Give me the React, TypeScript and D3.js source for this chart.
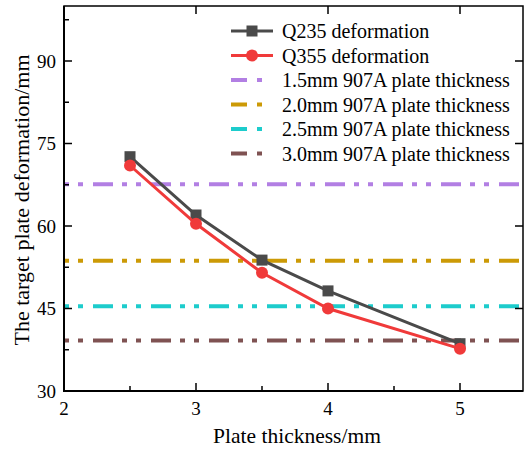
import React from "react";
import * as d3 from "d3";

const thickness = [2.5, 3, 3.5, 4, 5];
const q235 = [72.6, 62.0, 53.8, 48.2, 38.6];
const q355 = [71.0, 60.4, 51.5, 45.0, 37.7];
const refLabels = [
  "1.5mm 907A plate thickness",
  "2.0mm 907A plate thickness",
  "2.5mm 907A plate thickness",
  "3.0mm 907A plate thickness",
];
const refValues = [67.6, 53.7, 45.4, 39.2];
const refColors = ["#b27fe3", "#cc9a06", "#1dcccc", "#7f5252"];
const xTicks = [2, 3, 4, 5];
const xMinor = [2.5, 3.5, 4.5];
const yTicks = [30, 45, 60, 75, 90];
const yMinor = [37.5, 52.5, 67.5, 82.5, 97.5];

const W = 526;
const H = 452;
const L = 64, R = 523, T = 6, B = 391;
const FONT = "'Liberation Serif', 'Times New Roman', serif";

export default function App() {
  const x = d3.scaleLinear().domain([2, 5]).range([L, 460]);
  const y = d3.scaleLinear().domain([30, 90]).range([B, 61]);
  const line = d3
    .line<number>()
    .x((_, i) => x(thickness[i]))
    .y((d) => y(d));
  const grey = "#4a4a4a";
  const red = "#f03a3a";
  const legendRows = [
    { label: "Q235 deformation", color: grey, kind: "sq" },
    { label: "Q355 deformation", color: red, kind: "ci" },
    ...refLabels.map((l, i) => ({ label: l, color: refColors[i], kind: "dash" })),
  ];
  return (
    <svg
      width={W}
      height={H}
      style={{ position: "absolute", left: 0, top: 0, background: "#fff" }}
      fontFamily={FONT}
    >
      {refValues.map((v, i) => (
        <line
          key={"r" + i}
          x1={L}
          x2={R}
          y1={y(v)}
          y2={y(v)}
          stroke={refColors[i]}
          strokeWidth={4}
          strokeDasharray="5 9 5 10 20 9"
        />
      ))}
      <path d={line(q235) || ""} fill="none" stroke={grey} strokeWidth={3} />
      {q235.map((v, i) => (
        <rect
          key={"s" + i}
          x={x(thickness[i]) - 5.5}
          y={y(v) - 5.5}
          width={11}
          height={11}
          fill={grey}
        />
      ))}
      <path d={line(q355) || ""} fill="none" stroke={red} strokeWidth={3} />
      {q355.map((v, i) => (
        <circle key={"c" + i} cx={x(thickness[i])} cy={y(v)} r={6} fill={red} />
      ))}
      <rect x={L} y={T} width={R - L} height={B - T} fill="none" stroke="#000" strokeWidth={1.5} />
      <line x1={L} x2={L} y1={T} y2={B + 1} stroke="#000" strokeWidth={2} />
      <line x1={L - 1} x2={R} y1={B} y2={B} stroke="#000" strokeWidth={2} />
      {xTicks.map((t) => (
        <g key={"xt" + t}>
          <line x1={x(t)} x2={x(t)} y1={B} y2={B - 8} stroke="#000" strokeWidth={1.5} />
          <line x1={x(t)} x2={x(t)} y1={T} y2={T + 8} stroke="#000" strokeWidth={1.5} />
          <text x={x(t)} y={415} textAnchor="middle" fontSize={19}>
            {t}
          </text>
        </g>
      ))}
      {xMinor.map((t) => (
        <line key={"xm" + t} x1={x(t)} x2={x(t)} y1={B} y2={B - 5} stroke="#000" strokeWidth={1.5} />
      ))}
      {yTicks.map((t) => (
        <g key={"yt" + t}>
          <line x1={L} x2={L + 8} y1={y(t)} y2={y(t)} stroke="#000" strokeWidth={1.5} />
          <line x1={R} x2={R - 8} y1={y(t)} y2={y(t)} stroke="#000" strokeWidth={1.5} />
          <text x={L - 8} y={y(t) + 6.5} textAnchor="end" fontSize={19}>
            {t}
          </text>
        </g>
      ))}
      {yMinor.map((t) => (
        <line key={"ym" + t} x1={L} x2={L + 5} y1={y(t)} y2={y(t)} stroke="#000" strokeWidth={1.5} />
      ))}
      <text x={297} y={443} textAnchor="middle" fontSize={21.5}>
        Plate thickness/mm
      </text>
      <text
        transform={`translate(29,200) rotate(-90)`}
        textAnchor="middle"
        fontSize={22}
      >
        The target plate deformation/mm
      </text>
      {legendRows.map((r, i) => {
        const cy = 31 + i * 24.5;
        return (
          <g key={"lg" + i}>
            {r.kind === "dash" ? (
              <line
                x1={231}
                x2={273}
                y1={cy}
                y2={cy}
                stroke={r.color}
                strokeWidth={4}
                strokeDasharray="16 10 5 20"
              />
            ) : (
              <line x1={231} x2={273} y1={cy} y2={cy} stroke={r.color} strokeWidth={3} />
            )}
            {r.kind === "sq" && (
              <rect x={252 - 5.5} y={cy - 5.5} width={11} height={11} fill={r.color} />
            )}
            {r.kind === "ci" && <circle cx={252} cy={cy} r={6} fill={r.color} />}
            <text x={282} y={cy + 7} fontSize={20}>
              {r.label}
            </text>
          </g>
        );
      })}
    </svg>
  );
}
